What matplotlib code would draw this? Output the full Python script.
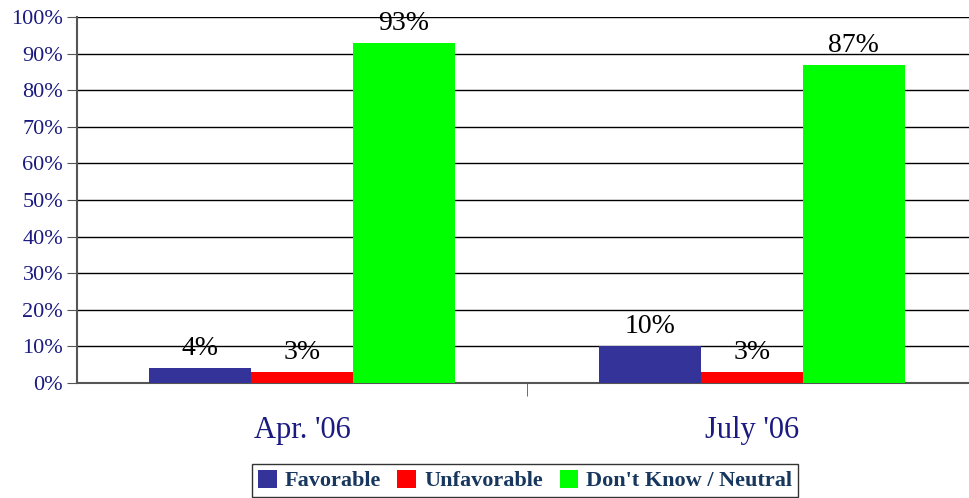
import matplotlib.pyplot as plt
import numpy as np

categories = ["Apr. '06", "July '06"]
series = ["Favorable", "Unfavorable", "Don't Know / Neutral"]
favorable = [4, 10]
unfavorable = [3, 3]
neutral = [93, 87]
colors = ["#333399", "#FF0000", "#00FF00"]
yticks = [0, 10, 20, 30, 40, 50, 60, 70, 80, 90, 100]

plt.rcParams['font.family'] = ['Liberation Serif', 'DejaVu Serif']

fig = plt.figure(figsize=(9.69, 4.98), dpi=100)
ax = fig.add_axes([77/969, 1 - 383/498, 900/969, 366/498])

x = np.arange(len(categories))
w = 0.226
values = [favorable, unfavorable, neutral]
for i, (name, vals, c) in enumerate(zip(series, values, colors)):
    bars = ax.bar(x + (i - 1) * w, vals, w, color=c, label=name, zorder=3)
    for b, v in zip(bars, vals):
        ax.annotate(f"{v}%", (b.get_x() + b.get_width() / 2, v),
                    xytext=(0, 5), textcoords='offset points',
                    ha='center', va='bottom', fontsize=20, color='black', zorder=4)

ax.set_xlim(-0.5, 1.5)
ax.set_ylim(0, 100)
ax.set_yticks(yticks)
ax.set_yticklabels([f"{t}%" for t in yticks], fontsize=16, color='#1a1a80')
ax.yaxis.grid(True, color='black', linewidth=1)
ax.set_axisbelow(True)

ax.set_xticks(x)
ax.set_xticklabels(categories, fontsize=22, color='#1a1a80')
ax.tick_params(axis='x', length=0, pad=24)
ax.set_xticks([0.5], minor=True)
ax.tick_params(axis='x', which='minor', length=9, color='#555555')
ax.tick_params(axis='y', length=7, color='#555555', pad=3)

for s in ['top', 'right']:
    ax.spines[s].set_visible(False)
ax.spines['left'].set_color('#555555')
ax.spines['left'].set_linewidth(1.5)
ax.spines['bottom'].set_color('#555555')
ax.spines['bottom'].set_linewidth(1.5)

leg = fig.legend(loc='lower center', bbox_to_anchor=(525/969, 0.0), ncol=3,
                 prop={'weight': 'bold', 'size': 16}, frameon=True, fancybox=False,
                 handlelength=0.85, handleheight=0.85, handletextpad=0.35,
                 columnspacing=0.75, borderpad=0.25, borderaxespad=0.05)
leg.get_frame().set_edgecolor('black')
leg.get_frame().set_linewidth(1)
for t in leg.get_texts():
    t.set_color('#17375E')

fig.savefig('out.png', dpi=100)
